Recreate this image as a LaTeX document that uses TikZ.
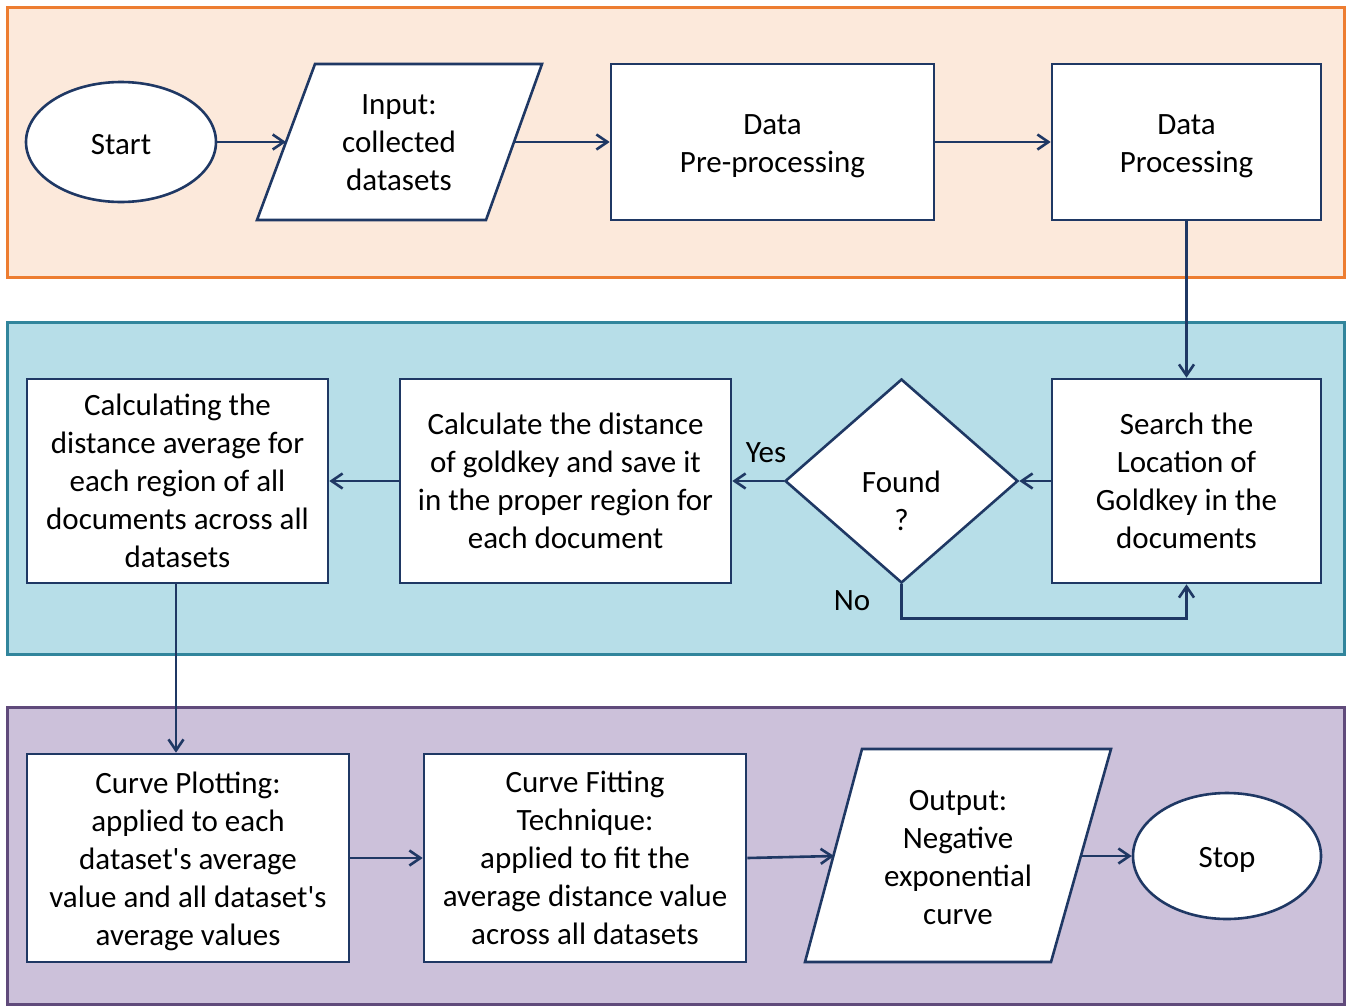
\documentclass[tikz,border=0pt]{standalone}
\usepackage{fontspec}
\setmainfont{Carlito}
\usetikzlibrary{shapes.geometric,arrows.meta}
\definecolor{navy}{RGB}{31,56,100}
\definecolor{bandA}{RGB}{252,233,219}
\definecolor{bandAline}{RGB}{237,125,49}
\definecolor{bandB}{RGB}{183,222,232}
\definecolor{bandBline}{RGB}{49,133,156}
\definecolor{bandC}{RGB}{204,193,218}
\definecolor{bandCline}{RGB}{96,74,123}
% tall first-line strut that lowers the text block a little
\newcommand\topstrut{\rule{0pt}{28pt}}
\tikzset{
  txt/.style={font=\fontsize{31}{38}\selectfont, align=center, text=black},
  box/.style={txt, draw=navy, line width=2.6pt, fill=white, inner sep=0pt},
  rectbox/.style={box, rectangle},
  oval/.style={box, ellipse},
  io/.style={draw=navy, line width=2.6pt, fill=white, line join=miter},
  band/.style={line width=3pt},
  flow/.style={draw=navy, line width=2.6pt, -{Straight Barb[length=11pt,width=15pt,line width=2.6pt]}},
}
\begin{document}
\begin{tikzpicture}[x=1pt,y=-1pt]
\useasboundingbox (0,0) rectangle (1346,1007);
% stage bands
\draw[band, draw=bandAline, fill=bandA] (7,7) rectangle (1344,277);
\draw[band, draw=bandBline, fill=bandB] (7,322) rectangle (1344,654);
\draw[band, draw=bandCline, fill=bandC] (7,707) rectangle (1344,1004);

% first stage
\node[oval, minimum width=190, minimum height=120] (start) at (121,142) {\rule{0pt}{25pt}Start};
\draw[io] (315,64) -- (542,64) -- (486,220) -- (257,220) -- cycle;
\coordinate (inL) at (286,142);
\coordinate (inR) at (514,142);
\node[txt] (input) at (399,143) {Input:\\collected\\datasets};
\node[rectbox, minimum width=323, minimum height=156] (pre) at (772.5,142) {\topstrut Data\\Pre-processing};
\node[rectbox, minimum width=269, minimum height=156] (proc) at (1186.5,142) {\topstrut Data\\Processing};

% second stage
\node[rectbox, minimum width=269, minimum height=204] (search) at (1186.5,481) {Search the\\Location of\\Goldkey in the\\documents};
\node[box, diamond, minimum width=233, minimum height=204,
      label={[txt, yshift=-20pt]center:{Found\\?}}] (found) at (901.5,481) {};
\node[rectbox, minimum width=331, minimum height=204] (calc) at (565.5,481) {Calculate the distance\\of goldkey and save it\\in the proper region for\\each document};
\node[rectbox, minimum width=301, minimum height=204] (avg) at (177.5,481) {Calculating the\\distance average for\\each region of all\\documents across all\\datasets};
\node[txt] (yes) at (766,453) {Yes};
\node[txt] (no) at (852,601) {No};

% third stage
\node[rectbox, minimum width=322, minimum height=208] (plot) at (188,858) {\topstrut Curve Plotting:\\applied to each\\dataset\textquotesingle s average\\value and all dataset\textquotesingle s\\average values};
\node[rectbox, minimum width=322, minimum height=208] (fit) at (585,858) {Curve Fitting\\Technique:\\applied to fit the\\average distance value\\across all datasets};
\draw[io] (862,749) -- (1111,749) -- (1051,962) -- (805,962) -- cycle;
\coordinate (outL) at (834,856);
\coordinate (outR) at (1081,856);
\node[txt] (output) at (958,858) {Output:\\Negative\\exponential\\curve};
\node[oval, minimum width=188, minimum height=126] (stop) at (1227,856) {\topstrut Stop};

% connectors
\draw[flow] (start.east) -- (inL);
\draw[flow] (inR) -- (pre.west);
\draw[flow] (pre.east) -- (proc.west);
\draw[flow] (proc.south) -- (search.north);
\draw[flow] (search.west) -- (found.east);
\draw[flow] (found.west) -- (calc.east);
\draw[flow] (found.south) -- ++(0,34) -| (search.south);
\draw[flow] (calc.west) -- (avg.west -| avg.east);
\draw[flow] (avg.south -| 176,0) -- (plot.north -| 176,0);
\draw[flow] (plot.east) -- (fit.west);
\draw[flow] (fit.east) -- (outL);
\draw[flow] (outR) -- (stop.west);
\end{tikzpicture}
\end{document}
